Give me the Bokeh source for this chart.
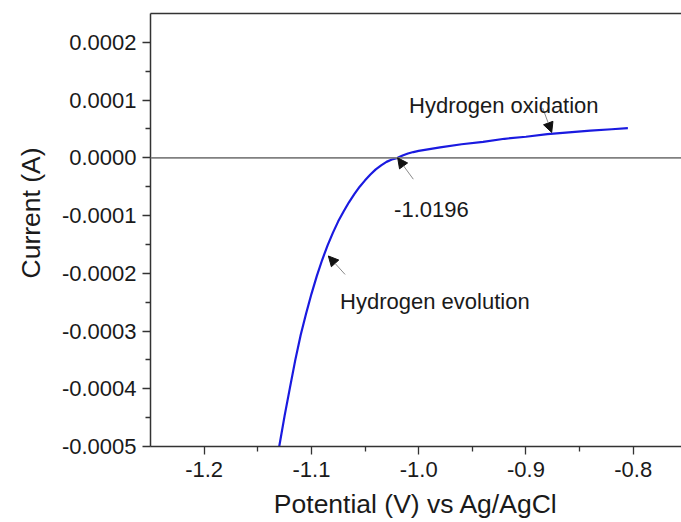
from bokeh.plotting import figure
from bokeh.models import (Range1d, FixedTicker, PrintfTickFormatter, LinearAxis,
                          Span, Label, Arrow, NormalHead, Title)
from bokeh.embed import file_html
from bokeh.resources import INLINE

# Linear sweep: potential (V vs Ag/AgCl) and measured current (A)
potential = [-1.130, -1.125, -1.120, -1.115, -1.110, -1.105, -1.100, -1.095,
             -1.090, -1.085, -1.080, -1.075, -1.070, -1.065, -1.060, -1.055,
             -1.050, -1.045, -1.040, -1.035, -1.030, -1.025, -1.0196, -1.015,
             -1.010, -1.005, -1.000, -0.990, -0.980, -0.960, -0.940, -0.920,
             -0.900, -0.880, -0.860, -0.840, -0.820, -0.805]
current = [-5.00e-4, -4.47e-4, -3.98e-4, -3.50e-4, -3.07e-4, -2.70e-4, -2.36e-4, -2.05e-4,
           -1.77e-4, -1.52e-4, -1.30e-4, -1.10e-4, -0.93e-4, -0.77e-4, -0.63e-4, -0.50e-4,
           -0.39e-4, -0.29e-4, -0.20e-4, -0.13e-4, -0.07e-4, -0.03e-4, 0.0, 0.04e-4,
           0.075e-4, 0.10e-4, 0.12e-4, 0.15e-4, 0.18e-4, 0.235e-4, 0.275e-4, 0.33e-4,
           0.365e-4, 0.41e-4, 0.44e-4, 0.47e-4, 0.495e-4, 0.515e-4]

x_ticks = [-1.2, -1.1, -1.0, -0.9, -0.8]
x_minor = [-1.15, -1.05, -0.95, -0.85]
y_ticks = [-0.0005, -0.0004, -0.0003, -0.0002, -0.0001, 0.0, 0.0001, 0.0002]
y_minor = [-0.00045, -0.00035, -0.00025, -0.00015, -0.00005, 0.00005, 0.00015]

# Annotations: text, text anchor (left, baseline), arrow tail and tip
notes = ["Hydrogen oxidation", "-1.0196", "Hydrogen evolution"]
note_x = [-1.009, -1.0229, -1.0733]
note_y = [0.904e-4, -0.887e-4, -2.487e-4]
arrow_x0 = [-0.8844, -1.0050, -1.0686]
arrow_y0 = [0.864e-4, -0.37e-4, -2.02e-4]
arrow_x1 = [-0.8760, -1.0196, -1.0842]
arrow_y1 = [0.44e-4, 0.0, -1.70e-4]

FONT = "Liberation Sans"
INK = "#1a1a1a"
AXIS = "#333333"

p = figure(width=681, height=522, output_backend="svg", toolbar_location=None,
           x_range=Range1d(-1.25, -0.755), y_range=Range1d(-0.0005, 0.00025),
           min_border_left=150, min_border_right=0, min_border_top=13,
           min_border_bottom=76)
p.outline_line_color = None
p.grid.visible = False
p.background_fill_color = "white"
p.border_fill_color = "white"

# zero-current reference line
p.add_layout(Span(location=0, dimension="width", line_color="#808080", line_width=1.6))

p.line(potential, current, line_color="#1a1ae0", line_width=2.2, line_join="round")

xa = p.xaxis[0]
xa.ticker = FixedTicker(ticks=x_ticks, minor_ticks=x_minor)
xa.formatter = PrintfTickFormatter(format="%.1f")
xa.axis_label = "Potential (V) vs Ag/AgCl"

ya = p.yaxis[0]
ya.ticker = FixedTicker(ticks=y_ticks, minor_ticks=y_minor)
ya.formatter = PrintfTickFormatter(format="%.4f")

for ax in (xa, ya):
    ax.axis_line_color = AXIS
    ax.axis_line_width = 1.5
    ax.major_tick_line_color = AXIS
    ax.major_tick_line_width = 1.3
    ax.minor_tick_line_color = AXIS
    ax.minor_tick_line_width = 1.3
    ax.major_tick_in = 0
    ax.major_tick_out = 8
    ax.minor_tick_in = 0
    ax.minor_tick_out = 5
    ax.major_label_text_font = FONT
    ax.major_label_text_font_size = "22px"
    ax.major_label_text_color = INK
    ax.axis_label_text_font = FONT
    ax.axis_label_text_font_style = "normal"
    ax.axis_label_text_color = INK

xa.major_label_standoff = 7
xa.axis_label_standoff = 9
xa.axis_label_text_font_size = "26.5px"
ya.major_label_standoff = 6

# vertical axis title, starting a little above the frame's lower third
ytitle = Title(text="Current (A)", align="left", offset=168,
               text_font=FONT, text_font_size="26.5px", text_font_style="normal",
               text_color=INK)
if "standoff" in ytitle.properties():
    ytitle.standoff = 25
p.add_layout(ytitle, "left")

# top frame edge
top = LinearAxis(ticker=FixedTicker(ticks=[]), axis_line_color=AXIS, axis_line_width=1.5,
                 major_tick_line_color=None, minor_tick_line_color=None,
                 major_label_text_font_size="0px")
p.add_layout(top, "above")

for i in range(len(notes)):
    p.add_layout(Arrow(x_start=arrow_x0[i], y_start=arrow_y0[i],
                       x_end=arrow_x1[i], y_end=arrow_y1[i],
                       line_color="#8a8a8a", line_width=1,
                       end=NormalHead(size=10, fill_color="#111111",
                                      line_color="#111111", line_width=1)))
    p.add_layout(Label(x=note_x[i], y=note_y[i], text=notes[i],
                       text_font=FONT, text_font_size="22px", text_color=INK,
                       text_baseline="alphabetic", text_align="left"))

open("out.html", "w").write(file_html(p, INLINE))
